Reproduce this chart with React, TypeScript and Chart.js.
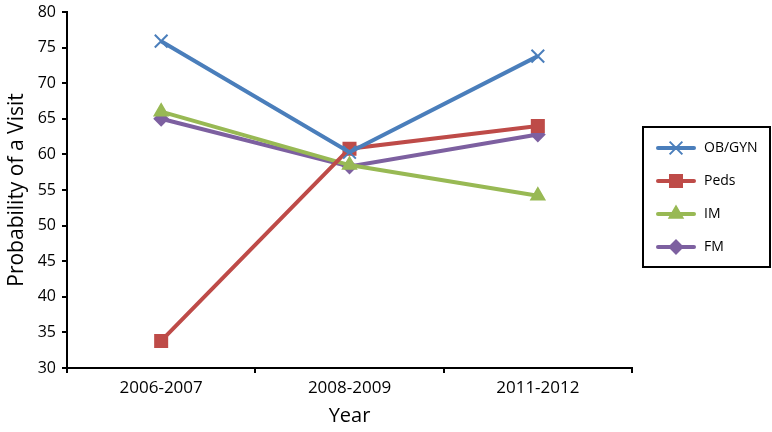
import React, { useEffect, useRef } from "react";
import { Chart, registerables } from "chart.js";
import { drawPoint } from "chart.js/helpers";

Chart.register(...registerables);

const categories = ["2006-2007", "2008-2009", "2011-2012"];
const obgyn = [75.9, 60.3, 73.8];
const peds = [33.8, 60.8, 64.0];
const im = [66.0, 58.5, 54.2];
const fm = [65.0, 58.3, 62.8];
const seriesNames = ["OB/GYN", "Peds", "IM", "FM"];
const colors = ["#4A7EBB", "#BE4B48", "#98B954", "#7D60A0"];
const pointStyles = ["crossRot", "rect", "triangle", "rectRot"];
const pointRadii = [9, 8.5, 7.5, 6.5];

const FONT = "'Open Sans', 'DejaVu Sans', sans-serif";

const legendPlugin = {
  id: "boxLegend",
  afterDraw(chart: any) {
    const ctx = chart.ctx;
    const x0 = 643, y0 = 127, w = 127, h = 140;
    ctx.save();
    ctx.strokeStyle = "#000";
    ctx.lineWidth = 2;
    ctx.strokeRect(x0, y0, w, h);
    const ys = [148, 181, 214, 247];
    chart.data.datasets.forEach((ds: any, i: number) => {
      const y = ys[i];
      ctx.strokeStyle = ds.borderColor;
      ctx.lineWidth = 4;
      ctx.lineCap = "round";
      ctx.beginPath();
      ctx.moveTo(658, y);
      ctx.lineTo(694, y);
      ctx.stroke();
      ctx.lineWidth = 2;
      ctx.lineCap = "butt";
      ctx.fillStyle = ds.borderColor;
      ctx.strokeStyle = ds.borderColor;
      drawPoint(ctx, { pointStyle: ds.pointStyle, radius: ds.pointRadius, rotation: 0, borderWidth: 2 } as any, 676, y);
      ctx.fillStyle = "#000";
      ctx.font = `14px ${FONT}`;
      ctx.textBaseline = "middle";
      ctx.textAlign = "left";
      ctx.fillText(ds.label, 704, y);
    });
    ctx.restore();
  },
};

export default function App() {
  const ref = useRef<HTMLCanvasElement>(null);
  useEffect(() => {
    const data = [obgyn, peds, im, fm];
    const chart = new Chart(ref.current!, {
      type: "line",
      data: {
        labels: categories,
        datasets: data.map((d, i) => ({
          label: seriesNames[i],
          data: d,
          borderColor: colors[i],
          backgroundColor: colors[i],
          pointBackgroundColor: colors[i],
          pointBorderColor: colors[i],
          pointStyle: pointStyles[i],
          pointRadius: pointRadii[i],
          pointBorderWidth: 2,
          borderWidth: 4,
          tension: 0,
        })),
      },
      options: {
        animation: false,
        responsive: false,
        maintainAspectRatio: false,
        layout: { padding: { top: 12, right: 140, left: 0, bottom: 0 } },
        plugins: { legend: { display: false }, tooltip: { enabled: false } },
        scales: {
          x: {
            offset: true,
            grid: { display: true, offset: true, drawOnChartArea: false, drawTicks: true, tickLength: 5, color: "#000", lineWidth: 2 },
            border: { display: true, color: "#000", width: 2 },
            ticks: { color: "#000", font: { size: 17, family: FONT }, padding: 5, maxRotation: 0 },
            title: { display: true, text: "Year", color: "#000", font: { size: 20, family: FONT }, padding: { top: 0 } },
            afterFit: (s: any) => { s.height = 64; s.paddingLeft = 0; s.paddingRight = 0; },
          },
          y: {
            min: 30,
            max: 80,
            ticks: { stepSize: 5, color: "#000", font: { size: 16, family: FONT }, padding: 6 },
            grid: { display: true, drawOnChartArea: false, drawTicks: true, tickLength: 5, color: "#000", lineWidth: 2 },
            border: { display: true, color: "#000", width: 2 },
            title: { display: true, text: "Probability of a Visit", color: "#000", font: { size: 21, family: FONT }, padding: { bottom: 0 } },
            afterFit: (s: any) => { s.width = 67; s.paddingTop = 0; s.paddingBottom = 0; },
          },
        },
      },
      plugins: [legendPlugin],
    });
    return () => chart.destroy();
  }, []);
  return (
    <div style={{ position: "absolute", left: 0, top: 0, width: 772, height: 432, background: "#fff" }}>
      <canvas ref={ref} width={772} height={432} style={{ width: 772, height: 432 }} />
    </div>
  );
}
